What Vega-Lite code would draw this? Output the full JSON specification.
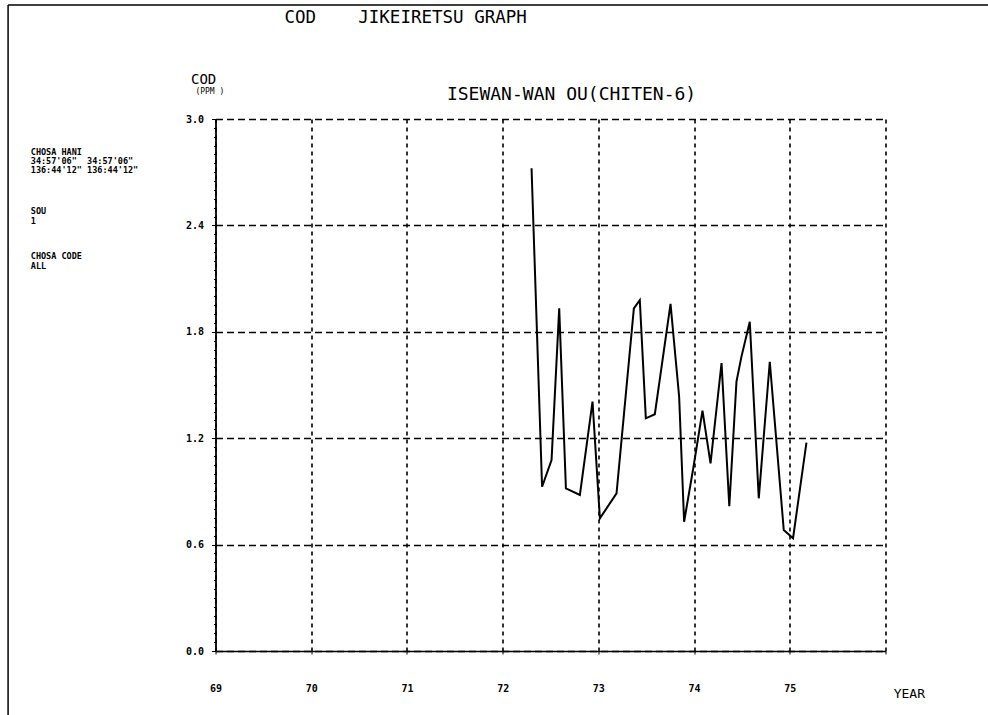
{
  "$schema": "https://vega.github.io/schema/vega-lite/v6.json",
  "autosize": "none",
  "width": 670,
  "height": 532,
  "padding": {"left": 215.5, "top": 119, "right": 102.5, "bottom": 64},
  "background": "white",
  "config": {
    "view": {"stroke": null},
    "font": "DejaVu Sans Mono"
  },
  "title": {
    "text": "COD\u00a0\u00a0\u00a0\u00a0JIKEIRETSU GRAPH",
    "anchor": "start",
    "frame": "group",
    "dx": 69,
    "font": "DejaVu Sans Mono",
    "fontSize": 17.5,
    "fontWeight": "normal",
    "color": "black",
    "offset": -22
  },
  "datasets": {
    "cod": [
      {"year": 72.302, "cod": 2.722},
      {"year": 72.412, "cod": 0.926},
      {"year": 72.511, "cod": 1.077},
      {"year": 72.591, "cod": 1.932},
      {"year": 72.661, "cod": 0.917},
      {"year": 72.807, "cod": 0.880},
      {"year": 72.939, "cod": 1.406},
      {"year": 73.016, "cod": 0.748},
      {"year": 73.190, "cod": 0.889},
      {"year": 73.371, "cod": 1.932},
      {"year": 73.433, "cod": 1.979},
      {"year": 73.496, "cod": 1.312},
      {"year": 73.590, "cod": 1.335},
      {"year": 73.754, "cod": 1.957},
      {"year": 73.844, "cod": 1.434},
      {"year": 73.896, "cod": 0.729},
      {"year": 73.992, "cod": 1.032},
      {"year": 74.088, "cod": 1.355},
      {"year": 74.172, "cod": 1.058},
      {"year": 74.287, "cod": 1.624},
      {"year": 74.368, "cod": 0.816},
      {"year": 74.443, "cod": 1.519},
      {"year": 74.495, "cod": 1.660},
      {"year": 74.582, "cod": 1.857},
      {"year": 74.676, "cod": 0.861},
      {"year": 74.791, "cod": 1.631},
      {"year": 74.937, "cod": 0.682},
      {"year": 75.034, "cod": 0.636},
      {"year": 75.174, "cod": 1.175}
    ],
    "one": [{"k": 1}]
  },
  "layer": [
    {
      "data": {"name": "cod"},
      "mark": {"type": "line", "color": "black", "strokeWidth": 2, "clip": true},
      "encoding": {
        "x": {
          "field": "year",
          "type": "quantitative",
          "scale": {"domain": [69, 76], "nice": false, "zero": false},
          "axis": {
            "values": [69, 70, 71, 72, 73, 74, 75, 76],
            "tickCount": 20,
            "grid": true,
            "gridColor": "black",
            "gridDash": [4, 4],
            "gridWidth": 1.6,
            "gridOpacity": 1,
            "domainColor": "black",
            "domainWidth": 1.6,
            "tickColor": "black",
            "tickSize": 3,
            "labelExpr": "datum.value == 76 ? '' : format(datum.value, 'd')",
            "labelFont": "DejaVu Sans Mono",
            "labelFontSize": 10,
            "labelFontWeight": "bold",
            "labelColor": "black",
            "labelPadding": 29,
            "labelBaseline": "top",
            "labelFlush": false,
            "title": "YEAR",
            "titleFont": "DejaVu Sans Mono",
            "titleFontSize": 13,
            "titleFontWeight": "normal",
            "titleColor": "black",
            "titleAnchor": "start",
            "titleAlign": "right",
            "titleBaseline": "alphabetic",
            "titleX": 709,
            "titleY": 46
          }
        },
        "y": {
          "field": "cod",
          "type": "quantitative",
          "scale": {"domain": [0, 3.0], "nice": false, "zero": true},
          "axis": {
            "values": [0, 0.05, 0.1, 0.15, 0.2, 0.25, 0.3, 0.35, 0.4, 0.45, 0.5, 0.55, 0.6, 0.65, 0.7, 0.75, 0.8, 0.85, 0.9, 0.95, 1.0, 1.05, 1.1, 1.15, 1.2, 1.25, 1.3, 1.35, 1.4, 1.45, 1.5, 1.55, 1.6, 1.65, 1.7, 1.75, 1.8, 1.85, 1.9, 1.95, 2.0, 2.05, 2.1, 2.15, 2.2, 2.25, 2.3, 2.35, 2.4, 2.45, 2.5, 2.55, 2.6, 2.65, 2.7, 2.75, 2.8, 2.85, 2.9, 2.95, 3.0],
            "tickCount": 200,
            "grid": true,
            "gridColor": "black",
            "gridDash": [7, 4],
            "gridWidth": 1.6,
            "gridOpacity": {"condition": {"test": "abs(datum.value / 0.6 - round(datum.value / 0.6)) < 0.001", "value": 1}, "value": 0},
            "domainColor": "black",
            "domainWidth": 1.8,
            "tickColor": "black",
            "tickSize": {"condition": {"test": "abs(datum.value / 0.6 - round(datum.value / 0.6)) < 0.001", "value": 4}, "value": 2},
            "labelExpr": "abs(datum.value / 0.6 - round(datum.value / 0.6)) < 0.001 ? format(datum.value, '.1f') : ''",
            "labelFont": "DejaVu Sans Mono",
            "labelFontSize": 10,
            "labelFontWeight": "bold",
            "labelColor": "black",
            "labelPadding": 8,
            "labelFlush": false,
            "labelOverlap": false,
            "title": "COD",
            "titleFont": "DejaVu Sans Mono",
            "titleFontSize": 14,
            "titleFontWeight": "normal",
            "titleColor": "black",
            "titleAngle": 0,
            "titleAlign": "left",
            "titleBaseline": "alphabetic",
            "titleX": -25,
            "titleY": -36
          }
        }
      }
    },
    {
      "data": {"name": "one"},
      "mark": {"type": "text", "font": "DejaVu Sans Mono", "fontSize": 18, "align": "center", "baseline": "middle", "color": "black", "text": "ISEWAN-WAN OU(CHITEN-6)"},
      "encoding": {"x": {"datum": 72.72}, "y": {"datum": 3.135}}
    },
    {
      "data": {"name": "one"},
      "mark": {"type": "text", "font": "DejaVu Sans Mono", "fontSize": 8, "align": "left", "baseline": "top", "color": "black", "text": "(PPM  )"},
      "encoding": {"x": {"datum": 68.79}, "y": {"datum": 3.175}}
    },
    {
      "data": {"name": "one"},
      "mark": {"type": "text", "font": "DejaVu Sans Mono", "fontSize": 8.5, "fontWeight": "bold", "align": "left", "baseline": "top", "lineHeight": 8.8, "color": "black",
        "text": ["CHOSA HANI", "\u00a034:57'06\"\u00a0\u00a034:57'06\"", "136:44'12\" 136:44'12\""]},
      "encoding": {"x": {"datum": 67.07}, "y": {"datum": 2.835}}
    },
    {
      "data": {"name": "one"},
      "mark": {"type": "text", "font": "DejaVu Sans Mono", "fontSize": 8.5, "fontWeight": "bold", "align": "left", "baseline": "top", "lineHeight": 9.5, "color": "black",
        "text": ["SOU", "1"]},
      "encoding": {"x": {"datum": 67.07}, "y": {"datum": 2.502}}
    },
    {
      "data": {"name": "one"},
      "mark": {"type": "text", "font": "DejaVu Sans Mono", "fontSize": 8.5, "fontWeight": "bold", "align": "left", "baseline": "top", "lineHeight": 9.5, "color": "black",
        "text": ["CHOSA CODE", "ALL"]},
      "encoding": {"x": {"datum": 67.07}, "y": {"datum": 2.25}}
    },
    {
      "data": {"name": "one"},
      "mark": {"type": "rule", "color": "black", "strokeWidth": 1.5},
      "encoding": {"x": {"datum": 66.833}, "y": {"datum": 3.643}, "y2": {"datum": -0.6}}
    },
    {
      "data": {"name": "one"},
      "mark": {"type": "rule", "color": "black", "strokeWidth": 1.5},
      "encoding": {"x": {"datum": 66.833}, "x2": {"datum": 78.2}, "y": {"datum": 3.643}}
    }
  ]
}
